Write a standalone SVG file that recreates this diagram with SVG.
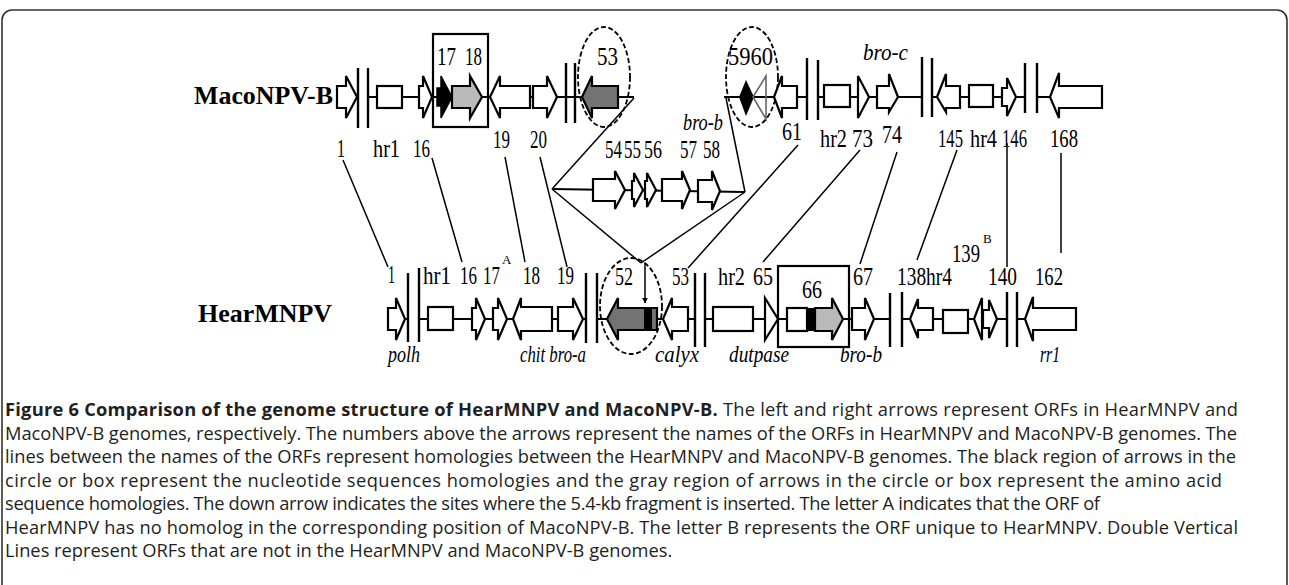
<svg xmlns="http://www.w3.org/2000/svg" width="1289" height="585" viewBox="0 0 1289 585">
<style>
.bb{stroke:#000;stroke-width:2.2;fill:none}
.bar{stroke:#000;stroke-width:2.4}
.orf{fill:#fff;stroke:#000;stroke-width:2.2;stroke-linejoin:miter}
.blk{fill:#000;stroke:#000;stroke-width:1.5}
.lg{fill:#b9b9b9;stroke:#000;stroke-width:2.2}
.dg{fill:#737373;stroke:#000;stroke-width:2.2}
.cir{fill:none;stroke:#000;stroke-width:1.8;stroke-dasharray:5 2.5}
.hl{stroke:#000;stroke-width:1.5;fill:none}
.num{font-family:"Liberation Serif",serif;font-size:25px;fill:#000}
.ita{font-family:"Liberation Serif",serif;font-style:italic;font-size:24px;fill:#000}
.sup{font-family:"Liberation Serif",serif;font-size:13px;fill:#000}
.gen{font-family:"Liberation Serif",serif;font-weight:bold;font-size:25px;fill:#000}
.cap{font-family:"Open Sans",sans-serif;font-size:18.3px;fill:#231f20}
.capb{font-weight:bold}
</style>
<defs>
<marker id="ah" viewBox="0 0 10 10" refX="9" refY="5" markerWidth="6" markerHeight="6" orient="auto" markerUnits="userSpaceOnUse">
<path d="M0,0 L10,5 L0,10 z" fill="#000"/>
</marker>
</defs>
<rect x="2" y="10" width="1285" height="600" rx="10" fill="none" stroke="#333" stroke-width="1.6"/>

<g id="connectors">
<line class="hl" x1="343" y1="160" x2="388" y2="267"/>
<line class="hl" x1="432" y1="158" x2="462" y2="262"/>
<line class="hl" x1="505" y1="157" x2="525" y2="262"/>
<line class="hl" x1="540" y1="157" x2="567" y2="267"/>
<line class="hl" x1="798" y1="145" x2="688" y2="268"/>
<line class="hl" x1="860" y1="150" x2="763" y2="262"/>
<line class="hl" x1="897" y1="152" x2="860" y2="264"/>
<line class="hl" x1="957" y1="150" x2="917" y2="260"/>
<line class="hl" x1="1007" y1="143" x2="1007" y2="267"/>
<line class="hl" x1="1061" y1="153" x2="1061" y2="253"/>
<line class="hl" x1="634" y1="98" x2="552" y2="189"/>
<line class="hl" x1="726" y1="98" x2="745" y2="192"/>
<line class="hl" x1="552" y1="189" x2="641" y2="263"/>
<line class="hl" x1="745" y1="192" x2="641" y2="263"/>
<line class="hl" x1="645" y1="263" x2="645" y2="303" marker-end="url(#ah)"/>
</g>

<g id="maconpv">
<text class="gen" x="194" y="104" textLength="139" lengthAdjust="spacingAndGlyphs">MacoNPV-B</text>
<path class="bb" d="M368,97H582 M618,97H634 M724,97H807 M818,97H922 M932,97H1025 M1037,97H1050"/>
<path class="bar" d="M358,68V128 M368,68V128 M566,63V123 M575,63V123 M807,58V120 M818,60V120 M922,57V117 M932,58V117 M1025,63V113 M1037,63V113"/>
<polygon class="orf" points="337,86 346,86 346,76 357,97 346,118 346,108 337,108"/>
<rect class="orf" x="377" y="86" width="25" height="22"/>
<polygon class="orf" points="419,86 423,86 423,76 432,97 423,118 423,108 419,108"/>
<rect x="433" y="34" width="55" height="93" fill="none" stroke="#000" stroke-width="2.2"/>
<polygon class="blk" points="437,88 441,88 441,76 452,97 441,118 441,106 437,106"/>
<polygon class="lg" points="452,86 470,86 470,76 482,97 470,118 470,108 452,108"/>
<polygon class="orf" points="530,86 500,86 500,76 490,97 500,118 500,108 530,108"/>
<polygon class="orf" points="533,86 547,86 547,76 557,97 547,118 547,108 533,108"/>
<polygon class="dg" points="618,86 592,86 592,76 582,97 592,118 592,108 618,108"/>
<ellipse class="cir" cx="604" cy="77" rx="26" ry="50"/>
<ellipse class="cir" cx="752" cy="77" rx="26" ry="50"/>
<polygon fill="#000" points="739,97 746,80 754,97 746,116"/>
<polygon fill="none" stroke="#666" stroke-width="1.6" points="766,76 753,97 766,119"/>
<polygon class="orf" points="797,86 782,86 782,76 774,97 782,118 782,108 797,108"/>
<rect class="orf" x="824" y="85" width="26" height="22"/>
<polygon class="orf" points="858,76 869,97 858,118"/>
<polygon class="orf" points="877,86 889,86 889,74 898,97 889,112 889,108 877,108"/>
<polygon class="orf" points="960,86 946,86 946,74 937,97 946,112 946,108 960,108"/>
<rect class="orf" x="969" y="85" width="24" height="22"/>
<polygon class="orf" points="1002,88 1007,88 1007,78 1016,97 1007,116 1007,106 1002,106"/>
<polygon class="orf" points="1102,86 1059,86 1059,73 1050,97 1059,118 1059,108 1102,108"/>
<text class="num" x="437" y="65" textLength="19" lengthAdjust="spacingAndGlyphs">17</text>
<text class="num" x="465" y="65" textLength="17" lengthAdjust="spacingAndGlyphs">18</text>
<text class="num" x="597" y="65" textLength="21" lengthAdjust="spacingAndGlyphs">53</text>
<text class="num" x="728" y="65" textLength="45" lengthAdjust="spacingAndGlyphs">5960</text>
<text class="ita" x="863" y="60" textLength="45" lengthAdjust="spacingAndGlyphs">bro-c</text>
<text class="ita" x="683" y="130" font-size="20" textLength="40" lengthAdjust="spacingAndGlyphs">bro-b</text>
<text class="num" x="337" y="157" textLength="8" lengthAdjust="spacingAndGlyphs">1</text>
<text class="num" x="373" y="157" textLength="27" lengthAdjust="spacingAndGlyphs">hr1</text>
<text class="num" x="413" y="157" textLength="17" lengthAdjust="spacingAndGlyphs">16</text>
<text class="num" x="493" y="148" textLength="17" lengthAdjust="spacingAndGlyphs">19</text>
<text class="num" x="530" y="148" textLength="17" lengthAdjust="spacingAndGlyphs">20</text>
<text class="num" x="782" y="140" textLength="20" lengthAdjust="spacingAndGlyphs">61</text>
<text class="num" x="820" y="147" textLength="27" lengthAdjust="spacingAndGlyphs">hr2</text>
<text class="num" x="852" y="147" textLength="21" lengthAdjust="spacingAndGlyphs">73</text>
<text class="num" x="882" y="143" textLength="20" lengthAdjust="spacingAndGlyphs">74</text>
<text class="num" x="938" y="147" textLength="25" lengthAdjust="spacingAndGlyphs">145</text>
<text class="num" x="970" y="147" textLength="27" lengthAdjust="spacingAndGlyphs">hr4</text>
<text class="num" x="1002" y="147" textLength="25" lengthAdjust="spacingAndGlyphs">146</text>
<text class="num" x="1050" y="147" textLength="28" lengthAdjust="spacingAndGlyphs">168</text>
</g>

<g id="insert">
<path class="bb" d="M552,189L745,192"/>
<polygon class="orf" points="593,179 615,179 615,171 625,190 615,209 615,201 593,201"/>
<polygon class="orf" points="632,181 634,181 634,173 643,190 634,207 634,199 632,199"/>
<polygon class="orf" points="645,181 647,181 647,173 656,190 647,207 647,199 645,199"/>
<polygon class="orf" points="662,179 682,179 682,171 690,190 682,209 682,201 662,201"/>
<polygon class="orf" points="698,180 712,180 712,171 720,191 712,210 712,202 698,202"/>
<text class="num" x="605" y="158" textLength="17" lengthAdjust="spacingAndGlyphs">54</text>
<text class="num" x="624" y="158" textLength="17" lengthAdjust="spacingAndGlyphs">55</text>
<text class="num" x="644" y="158" textLength="18" lengthAdjust="spacingAndGlyphs">56</text>
<text class="num" x="680" y="158" textLength="17" lengthAdjust="spacingAndGlyphs">57</text>
<text class="num" x="703" y="158" textLength="17" lengthAdjust="spacingAndGlyphs">58</text>
</g>

<g id="hearmnpv">
<text class="gen" x="198" y="322" textLength="134" lengthAdjust="spacingAndGlyphs">HearMNPV</text>
<path class="bb" d="M405,319H408 M419,319H586 M597,319H695 M705,319H890 M902,319H1007 M1017,319H1025"/>
<path class="bar" d="M408,273V342 M419,268V342 M586,273V343 M597,273V343 M695,273V347 M705,273V347 M890,293V347 M902,292V347 M1007,292V347 M1017,292V347"/>
<polygon class="orf" points="388,308 396,308 396,298 405,319 396,340 396,330 388,330"/>
<rect class="orf" x="428" y="307" width="25" height="23"/>
<polygon class="orf" points="472,308 476,308 476,298 485,319 476,340 476,330 472,330"/>
<polygon class="orf" points="493,308 498,308 498,298 507,319 498,340 498,330 493,330"/>
<polygon class="orf" points="552,307 521,307 521,298 513,319 521,340 521,331 552,331"/>
<polygon class="orf" points="558,307 573,307 573,298 583,319 573,340 573,331 558,331"/>
<ellipse class="cir" cx="631" cy="306" rx="31" ry="48"/>
<polygon class="dg" points="657,308 618,308 618,298 607,319 618,340 618,330 657,330"/>
<rect x="644" y="308" width="8" height="22" fill="#000"/>
<polygon class="orf" points="688,307 672,307 672,298 663,319 672,340 672,331 688,331"/>
<rect class="orf" x="713" y="307" width="40" height="24"/>
<polygon class="orf" points="765,298 778,319 765,340"/>
<rect x="778" y="266" width="71" height="81" fill="none" stroke="#000" stroke-width="2.2"/>
<rect class="orf" x="787" y="308" width="20" height="23"/>
<rect x="807" y="308" width="8" height="23" fill="#000"/>
<polygon class="lg" points="815,308 832,308 832,298 843,319 832,340 832,331 815,331"/>
<polygon class="orf" points="852,308 865,308 865,298 874,319 865,340 865,330 852,330"/>
<polygon class="orf" points="933,308 918,308 918,299 910,319 918,338 918,330 933,330"/>
<rect class="orf" x="943" y="310" width="25" height="23"/>
<polygon class="orf" points="982,298 974,319 982,340"/>
<polygon class="orf" points="983,310 989,310 989,300 997,319 989,338 989,328 983,328"/>
<polygon class="orf" points="1076,308 1033,308 1033,297 1025,319 1033,341 1033,330 1076,330"/>
<text class="num" x="388" y="283" textLength="7" lengthAdjust="spacingAndGlyphs">1</text>
<text class="num" x="423" y="284" textLength="28" lengthAdjust="spacingAndGlyphs">hr1</text>
<text class="num" x="460" y="284" textLength="17" lengthAdjust="spacingAndGlyphs">16</text>
<text class="num" x="483" y="284" textLength="17" lengthAdjust="spacingAndGlyphs">17</text>
<text class="sup" x="502" y="264">A</text>
<text class="num" x="523" y="284" textLength="17" lengthAdjust="spacingAndGlyphs">18</text>
<text class="num" x="557" y="284" textLength="17" lengthAdjust="spacingAndGlyphs">19</text>
<text class="num" x="615" y="285" textLength="18" lengthAdjust="spacingAndGlyphs">52</text>
<text class="num" x="672" y="285" textLength="17" lengthAdjust="spacingAndGlyphs">53</text>
<text class="num" x="718" y="285" textLength="27" lengthAdjust="spacingAndGlyphs">hr2</text>
<text class="num" x="753" y="285" textLength="20" lengthAdjust="spacingAndGlyphs">65</text>
<text class="num" x="802" y="298" textLength="20" lengthAdjust="spacingAndGlyphs">66</text>
<text class="num" x="853" y="285" textLength="20" lengthAdjust="spacingAndGlyphs">67</text>
<text class="num" x="897" y="285" textLength="55" lengthAdjust="spacingAndGlyphs">138hr4</text>
<text class="num" x="952" y="262" textLength="28" lengthAdjust="spacingAndGlyphs">139</text>
<text class="sup" x="983" y="243">B</text>
<text class="num" x="988" y="285" textLength="29" lengthAdjust="spacingAndGlyphs">140</text>
<text class="num" x="1035" y="285" textLength="28" lengthAdjust="spacingAndGlyphs">162</text>
<text class="ita" x="388" y="362" font-size="22" textLength="32" lengthAdjust="spacingAndGlyphs">polh</text>
<text class="ita" x="520" y="362" font-size="22" textLength="66" lengthAdjust="spacingAndGlyphs">chit bro-a</text>
<text class="ita" x="655" y="362" font-size="22" textLength="44" lengthAdjust="spacingAndGlyphs">calyx</text>
<text class="ita" x="729" y="362" font-size="22" textLength="60" lengthAdjust="spacingAndGlyphs">dutpase</text>
<text class="ita" x="840" y="362" font-size="22" textLength="42" lengthAdjust="spacingAndGlyphs">bro-b</text>
<text class="ita" x="1040" y="362" font-size="22" textLength="20" lengthAdjust="spacingAndGlyphs">rr1</text>
</g>

<g id="caption" class="cap">
<text x="5" y="416" textLength="1233" lengthAdjust="spacing"><tspan class="capb">Figure 6 Comparison of the genome structure of HearMNPV and MacoNPV-B.</tspan> The left and right arrows represent ORFs in HearMNPV and</text>
<text x="5" y="439.5" textLength="1232" lengthAdjust="spacing">MacoNPV-B genomes, respectively. The numbers above the arrows represent the names of the ORFs in HearMNPV and MacoNPV-B genomes. The</text>
<text x="5" y="463" textLength="1231" lengthAdjust="spacing">lines between the names of the ORFs represent homologies between the HearMNPV and MacoNPV-B genomes. The black region of arrows in the</text>
<text x="5" y="486.5" textLength="1217" lengthAdjust="spacing">circle or box represent the nucleotide sequences homologies and the gray region of arrows in the circle or box represent the amino acid</text>
<text x="5" y="510" textLength="1095" lengthAdjust="spacing">sequence homologies. The down arrow indicates the sites where the 5.4-kb fragment is inserted. The letter A indicates that the ORF of</text>
<text x="5" y="533.5" textLength="1233" lengthAdjust="spacing">HearMNPV has no homolog in the corresponding position of MacoNPV-B. The letter B represents the ORF unique to HearMNPV. Double Vertical</text>
<text x="5" y="557">Lines represent ORFs that are not in the HearMNPV and MacoNPV-B genomes.</text>
</g>
</svg>
